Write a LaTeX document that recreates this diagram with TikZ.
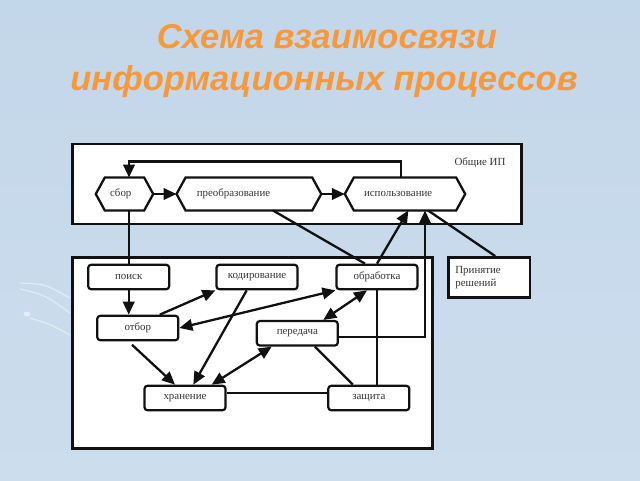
\documentclass[tikz,border=0pt]{standalone}
\usepackage{fontspec}
\setmainfont{Liberation Serif}
\newfontfamily\titlefont{Liberation Sans}
\usetikzlibrary{arrows.meta,calc}
\definecolor{bgtop}{HTML}{C3D7EA}
\definecolor{bgbot}{HTML}{CCDDED}
\definecolor{ttl}{HTML}{F7993B}
\definecolor{ink}{HTML}{111111}
\begin{document}
\begin{tikzpicture}[x=1pt,y=-1pt,
  font=\fontsize{10.9}{13}\selectfont,
  frame/.style={draw=ink, line width=2.8pt, fill=white, inner sep=0pt},
  rbox/.style={draw=ink, line width=2.2pt, rounded corners=3pt, fill=white, minimum width=81pt, minimum height=24.5pt, inner sep=0pt, text=ink!85},
  hexn/.style={inner ysep=0pt, minimum height=32.5pt, align=left, text=ink!85},
  hexline/.style={draw=ink, line width=2.3pt, line join=miter},
  con/.style={draw=ink, line width=2.3pt},
  arr/.style={con, -{Triangle[length=13pt,width=11.5pt]}},
  darr/.style={con, {Triangle[length=13pt,width=11.5pt]}-{Triangle[length=13pt,width=11.5pt]}},
  ttlstyle/.style={font=\titlefont\bfseries\itshape\fontsize{34.5}{42}\selectfont, text=ttl, anchor=base, inner sep=0pt},
  swoosh/.style={draw=white, opacity=0.45, line width=1.2pt, line cap=round}
]
\useasboundingbox (0,0) rectangle (640,480);
\shade[top color=bgtop, bottom color=bgbot] (0,0) rectangle (640,480);
% background swooshes
\draw[swoosh] (20,283) .. controls (45,284) .. (70,298);
\draw[swoosh] (20,289) .. controls (45,295) .. (70,313);
\fill[white, opacity=0.5] (27,314) ellipse (3.5pt and 2.5pt);
\draw[swoosh] (30,318) .. controls (50,324) .. (70,335);

% title
\node[ttlstyle] (t1) at (327,48) {Схема взаимосвязи};
\node[ttlstyle] (t2) at (324,90) {информационных процессов};

% frames
\node[frame, minimum width=449pt, minimum height=80pt] (top) at (297.2,184) {};
\node[frame, minimum width=360pt, minimum height=191pt] (bot) at (252.7,352.8) {};
\node[text=ink!85] (obshie) at (480,163) {Общие ИП};

% hexagon nodes
\node[hexn, inner xsep=14pt, text width=29pt] (sbor) at (124.5,194) {сбор};
\node[hexn, inner xsep=20pt, text width=104.3pt] (preob) at (248.9,194) {преобразование};
\node[hexn, inner xsep=19pt, text width=82pt] (isp) at (405,194) {использование};
\foreach \n in {sbor,preob,isp}
  \draw[hexline] (\n.west) -- ([xshift=9pt]\n.north west) -- ([xshift=-9pt]\n.north east)
    -- (\n.east) -- ([xshift=-9pt]\n.south east) -- ([xshift=9pt]\n.south west) -- cycle;

% decision box
\node[draw=ink, line width=2.5pt, fill=white, minimum width=81.7pt, minimum height=40.4pt,
      inner xsep=7pt, text width=67.7pt, align=left, text=ink!85] (prin) at (489.2,277.5) {Принятие\\решений};

% rounded boxes
\node[rbox] (poisk) at (128.7,277) {поиск};
\node[rbox] (kod) at (257,277) {кодирование};
\node[rbox] (obr) at (377,277) {обработка};
\node[rbox] (otbor) at (137.8,328) {отбор};
\node[rbox] (pered) at (297.3,333.3) {передача};
\node[rbox] (hran) at (185,398) {хранение};
\node[rbox] (zash) at (368.8,398) {защита};

% top connectors
\draw[arr] (sbor.east) -- (preob.west);
\draw[arr] (preob.east) -- (isp.west);
\draw[arr] ([xshift=-4.3pt]isp.north) -- ++(0,-16) -| ([xshift=4.5pt]sbor.north);

% links between levels
\draw[con] (poisk.north |- sbor.south) -- (poisk.north);
\draw[con] ($(kod.north west)+(16,0)$ |- preob.south) -- ($(kod.north west)+(16,0)$);
\draw[con] ([xshift=24pt]preob.south) -- ([xshift=-12pt]obr.north);
\draw[arr] (obr.north) -- ([xshift=3.3pt]isp.south);
\draw[arr] ([yshift=-4pt]pered.east) -| ([xshift=20pt]isp.south);
\draw[con] ([xshift=23pt]isp.south) -- ([xshift=6pt]prin.north);

% bottom connectors
\draw[arr] (poisk.south) -- (poisk.south |- otbor.north);
\draw[arr] ([xshift=22pt]otbor.north) -- (kod.south west);
\draw[darr] (otbor.east) -- (obr.south west);
\draw[darr] ([xshift=-10pt]obr.south) -- ([xshift=26pt]pered.north);
\draw[arr, shorten <=5pt] ([xshift=-9.5pt]otbor.south) -- ([xshift=-10pt]hran.north);
\draw[arr] ([xshift=-10.3pt]kod.south) -- ([xshift=8.3pt]hran.north);
\draw[darr] ([xshift=26.7pt]hran.north) -- ([xshift=-25.6pt]pered.south);
\draw[con] ([xshift=17.7pt]pered.south) -- ([xshift=-16pt]zash.north);
\draw[con] ([yshift=4.7pt]hran.east) -- ([yshift=4.7pt]zash.west);
\draw[con] (obr.south) -- (obr.south |- zash.north);
\end{tikzpicture}
\end{document}
